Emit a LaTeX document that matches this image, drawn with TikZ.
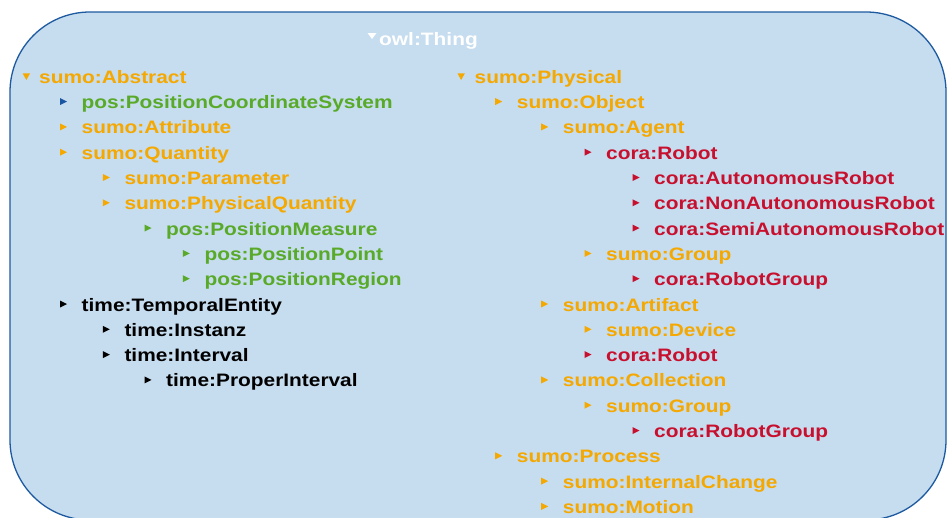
\documentclass[tikz,border=0pt]{standalone}
\usepackage{fontspec}
\newfontfamily\lab{Liberation Sans}[FakeStretch=1.16]
\definecolor{bgfill}{RGB}{198,220,239}
\definecolor{bgline}{RGB}{30,90,160}
\definecolor{orgc}{RGB}{245,168,0}
\definecolor{grnc}{RGB}{88,170,40}
\definecolor{redc}{RGB}{200,16,46}
\definecolor{bluc}{RGB}{25,85,160}
\newcommand{\ent}[6]{%
  \node[lbl, text=#4] (#1) at (#2,#3) {#6};
  \pic[color=#5] at ([xshift=-21.5pt,yshift=7pt]#1.base west) {rtri};}
\begin{document}
\begin{tikzpicture}[x=1pt,y=-1pt,
  lbl/.style={anchor=base west, inner sep=0pt, font=\lab\bfseries\fontsize{18}{21}\selectfont},
  rtri/.pic={\fill (0,-3.5) -- (7,0) -- (0,3.5) -- cycle;},
  dtri/.pic={\fill (0,-3.3) -- (7.3,-3.3) -- (3.65,3.3) -- cycle;},
  frame/.style={draw=bgline, fill=bgfill, line width=1.3pt, rounded corners=80pt}]
\useasboundingbox (0,0) rectangle (947,517);
\clip (0,0) rectangle (947,517);
\draw[frame] (10,12) rectangle (946,520);
% root
\node[lbl, text=white] (thing) at (379,45) {owl:Thing};
\fill[white] (367.5,33) -- (376.5,33) -- (372,39) -- cycle;
% left column
\node[lbl, text=orgc] (abstract) at (39,83.3) {sumo:Abstract};
\pic[color=orgc] at ([xshift=-16.3pt,yshift=6.6pt]abstract.base west) {dtri};
\ent{pcs}{81.5}{108.6}{grnc}{bluc}{pos:PositionCoordinateSystem}
\ent{attr}{81.5}{133.9}{orgc}{orgc}{sumo:Attribute}
\ent{quant}{81.5}{159.2}{orgc}{orgc}{sumo:Quantity}
\ent{param}{124.3}{184.5}{orgc}{orgc}{sumo:Parameter}
\ent{physq}{124.3}{209.8}{orgc}{orgc}{sumo:PhysicalQuantity}
\ent{posm}{166}{235.1}{grnc}{grnc}{pos:PositionMeasure}
\ent{posp}{204.3}{260.4}{grnc}{grnc}{pos:PositionPoint}
\ent{posr}{204.3}{285.7}{grnc}{grnc}{pos:PositionRegion}
\ent{tent}{81.5}{311.0}{black}{black}{time:TemporalEntity}
\ent{inst}{124.3}{336.3}{black}{black}{time:Instanz}
\ent{intv}{124.3}{361.6}{black}{black}{time:Interval}
\ent{pintv}{166}{386.9}{black}{black}{time:ProperInterval}
% right column
\node[lbl, text=orgc] (phys) at (474.5,83.3) {sumo:Physical};
\pic[color=orgc] at ([xshift=-17pt,yshift=6.6pt]phys.base west) {dtri};
\ent{obj}{516.7}{108.6}{orgc}{orgc}{sumo:Object}
\ent{agent}{562.7}{133.9}{orgc}{orgc}{sumo:Agent}
\ent{robot}{606}{159.2}{redc}{redc}{cora:Robot}
\ent{arobot}{654}{184.5}{redc}{redc}{cora:AutonomousRobot}
\ent{narobot}{654}{209.8}{redc}{redc}{cora:NonAutonomousRobot}
\ent{sarobot}{654}{235.1}{redc}{redc}{cora:SemiAutonomousRobot}
\ent{group}{606}{260.4}{orgc}{orgc}{sumo:Group}
\ent{rgroup}{654}{285.7}{redc}{redc}{cora:RobotGroup}
\ent{artif}{562.7}{311.0}{orgc}{orgc}{sumo:Artifact}
\ent{device}{606}{336.3}{orgc}{orgc}{sumo:Device}
\ent{robotb}{606}{361.6}{redc}{redc}{cora:Robot}
\ent{coll}{562.7}{386.9}{orgc}{orgc}{sumo:Collection}
\ent{groupb}{606}{412.2}{orgc}{orgc}{sumo:Group}
\ent{rgroupb}{654}{437.5}{redc}{redc}{cora:RobotGroup}
\ent{proc}{516.7}{462.8}{orgc}{orgc}{sumo:Process}
\ent{ichange}{562.7}{488.1}{orgc}{orgc}{sumo:InternalChange}
\ent{motion}{562.7}{513.4}{orgc}{orgc}{sumo:Motion}
\end{tikzpicture}
\end{document}
